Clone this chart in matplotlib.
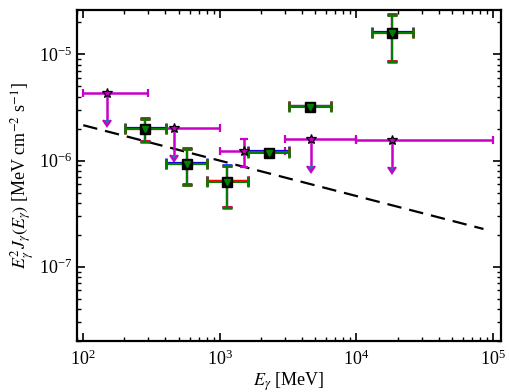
import numpy as np
import matplotlib
matplotlib.use('Agg')
import matplotlib.pyplot as plt

plt.rcParams['font.family'] = ['Liberation Serif', 'DejaVu Serif']
plt.rcParams['mathtext.fontset'] = 'stix'

# upper limits / magenta points
ul_E = [150., 461., 1500., 4640., 18200.]
ul_Elo = [100., 300., 1000., 3000., 10000.]
ul_Ehi = [300., 1000., 3000., 10000., 100000.]
ul_F = [4.3e-6, 2.01e-6, 1.22e-6, 1.6e-6, 1.56e-6]
ul_Flo = [None, None, 8.6e-7, None, None]
ul_Fhi = [None, None, 1.58e-6, None, None]
ul_isLimit = [True, True, False, True, True]

# detected points (several overlapping fits)
pt_E = [283., 571., 1137., 2280., 4580., 18200.]
pt_Elo = [203., 404., 800., 1620., 3230., 12900.]
pt_Ehi = [402., 800., 1620., 3200., 6460., 25900.]
pt_F = [1.97e-6, 9.2e-7, 6.3e-7, 1.19e-6, 3.19e-6, 1.58e-5]
pt_Flo = [1.5e-6, 5.86e-7, 3.6e-7, 1.17e-6, 3.13e-6, 8.5e-6]
pt_Fhi = [2.45e-6, 1.28e-6, 8.8e-7, 1.21e-6, 3.25e-6, 2.33e-5]
seriesColors = ['blue', 'red', 'green']
seriesScale = [1.025, 1.012, 1.0]
seriesWidth = [1.6, 1.6, 1.5]

# dashed power law
lineNorm = 2.15e-6
lineIndex = -1. / 3.

fig = plt.figure(figsize=(5.1, 3.92), dpi=100)
ax = fig.add_axes([0.151, 0.130, 0.831, 0.844])
ax.set_xscale('log')
ax.set_yscale('log')

E = np.logspace(2, 4.93, 100)
ax.plot(E, lineNorm * (E / 100.) ** lineIndex, 'k', lw=1.6, dashes=(6.5, 3.6))

# magenta
mag = '#c800c8'
for i in range(len(ul_E)):
    x = ul_E[i]
    y = ul_F[i]
    xerr = [[x - ul_Elo[i]], [ul_Ehi[i] - x]]
    if ul_isLimit[i]:
        eb = ax.errorbar([x], [y], xerr=xerr, yerr=[[0.44 * y], [0.]], uplims=True,
                         fmt='none', ecolor=mag, elinewidth=1.8, capsize=3, capthick=1.6)
    else:
        eb = ax.errorbar([x], [y], xerr=xerr, yerr=[[y - ul_Flo[i]], [ul_Fhi[i] - y]],
                         fmt='none', ecolor=mag, elinewidth=1.8, capsize=3, capthick=1.6)
ax.plot(ul_E, ul_F, '*', ms=7, mfc=mag, mec='k', mew=0.9, zorder=5)

# overlapping fits
capColors = {'blue': '#5a5a8a', 'red': '#6a4a3a', 'green': '#4f6b2b'}
for c, s, w in zip(seriesColors, seriesScale, seriesWidth):
    F = np.array(pt_F) * s
    Elo = np.array(pt_E) - np.array(pt_Elo)
    Ehi = np.array(pt_Ehi) - np.array(pt_E)
    Flo = (np.array(pt_F) - np.array(pt_Flo)) * s
    Fhi = (np.array(pt_Fhi) - np.array(pt_F)) * s
    eb = ax.errorbar(pt_E, F, xerr=[Elo, Ehi], yerr=[Flo, Fhi], fmt='none',
                     ecolor=c, elinewidth=w, capsize=3.5, capthick=1.8)
    for cap in eb[1]:
        cap.set_color(capColors[c])
ax.plot(pt_E, pt_F, 's', ms=6.5, mfc='k', mec='k', zorder=6)
ax.plot(pt_E, pt_F, 'v', ms=4, mfc='green', mec='green', zorder=7)

ax.set_xlim(90, 1.14e5)
ax.set_ylim(2e-8, 2.6e-5)
ax.tick_params(which='both', direction='in', top=True, right=True, labelsize=13)
ax.tick_params(which='major', length=6, width=1.2)
ax.tick_params(which='minor', length=3, width=1)
for sp in ax.spines.values():
    sp.set_linewidth(1.6)
ax.tick_params(axis='x', pad=6)

ax.set_xlabel(r'$E_\gamma$ [MeV]', fontsize=13, labelpad=1)
ax.set_ylabel(r'$E_\gamma^2 J_\gamma(E_\gamma)$ [MeV cm$^{-2}$ s$^{-1}$]', fontsize=13, labelpad=2)

fig.savefig('out.png')
